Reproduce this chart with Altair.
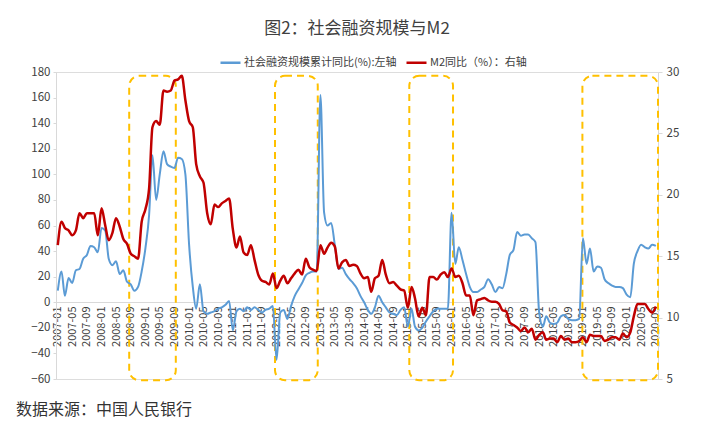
import altair as alt
import pandas as pd

FONT = "Noto Sans CJK SC"

title_text = "图2：社会融资规模与M2"
source_text = "数据来源：中国人民银行"
series_names = ["社会融资规模累计同比(%):左轴", "M2同比（%）：右轴"]
series_colors = ["#5B9BD5", "#C00000"]

# monthly categories 2007-01 .. 2020-09
months = pd.date_range("2007-01-01", "2020-09-01", freq="MS").strftime("%Y/%m/%d").tolist()

# 社会融资规模累计同比 (%), left axis
tsf_yoy = [
    9, 24, 5, 19, 15, 25, 26, 34, 37, 44, 43, 39,            # 2007
    58, 56, 34, 29, 32, 22, 25, 16, 14, 9, 12, 24,           # 2008
    42, 68, 115, 80, 100, 118, 108, 106, 105, 113, 112, 100, # 2009
    45, 12, -5, 14, -7, -9, -8, -7, -5, -4, -2, 1,           # 2010
    -22, -7, -5, -7, -4, -6, -4, -6, -8, -6, -5, -3,         # 2011
    -45, -8, -6, -13, -3, 5, 10, 15, 21, 23, 24, 24,         # 2012
    162, 70, 60, 62, 45, 26, 27, 22, 18, 15, 11, 5,          # 2013
    0, -6, -9, -4, 5, 0, -4, -8, -9, -10, -6, -4,            # 2014
    -19, -5, -19, -22, -20, -15, -11, -7, -5, -5, -5, -5,    # 2015
    70, 30, 43, 33, 22, 12, 8, 8, 10, 12, 18, 14,            # 2016
    8, 12, 11, 22, 37, 41, 55, 52, 53, 53, 50, 47,           # 2017
    -8, -19, -11, -16, -17, -16, -11, -10, -13, -14, -14, -13,  # 2018
    50, 30, 42, 24, 28, 27, 18, 15, 13, 12, 12, 11,          # 2019
    6, 4, 30, 40, 45, 43, 42, 45, 44,                        # 2020
]

# M2 同比 (%), right axis
m2_yoy = [
    15.9, 17.8, 17.3, 17.1, 16.7, 17.1, 18.5, 18.1, 18.5, 18.5, 18.5, 16.7,
    18.9, 17.5, 16.3, 16.9, 18.1, 17.4, 16.4, 16.0, 15.2, 15.0, 14.8, 17.8,
    18.8, 20.5, 25.5, 26.0, 25.7, 28.5, 28.4, 28.5, 29.3, 29.4, 29.7, 27.7,
    26.0, 25.5, 22.5, 21.5, 21.0, 18.5, 17.6, 19.2, 19.0, 19.3, 19.5, 19.7,
    17.2, 15.7, 16.6, 15.3, 15.1, 15.9, 14.7, 13.5, 13.0, 12.9, 12.7, 13.6,
    12.4, 13.0, 13.4, 12.8, 13.2, 13.6, 13.9, 13.5, 14.8, 14.1, 13.9, 13.8,
    15.9, 15.2, 15.7, 16.1, 15.8, 14.0, 14.5, 14.7, 14.2, 14.3, 14.2, 13.6,
    13.2, 13.3, 12.1, 13.2, 13.4, 14.7, 13.5, 12.8, 12.9, 12.6, 12.3, 12.2,
    10.8, 12.5, 11.6, 10.1, 10.8, 10.2, 13.3, 13.3, 13.1, 13.5, 13.7, 13.3,
    14.0, 13.3, 13.4, 12.8, 11.8, 11.8, 10.2, 11.4, 11.5, 11.6, 11.4, 11.3,
    11.3, 11.1, 10.6, 10.5, 9.6, 9.4, 9.2, 8.9, 9.2, 8.8, 9.1, 8.2,
    8.6, 8.8, 8.2, 8.3, 8.3, 8.0, 8.5, 8.2, 8.3, 8.0, 8.0, 8.1,
    8.4, 8.0, 8.6, 8.5, 8.5, 8.5, 8.1, 8.2, 8.4, 8.4, 8.2, 8.7,
    8.4, 8.8, 10.1, 11.1, 11.1, 11.1, 10.7, 10.4, 10.9,
]

# highlighted periods (dashed boxes)
box_start = ["2008/08/19", "2011/12/19", "2015/01/13", "2018/12/28"]
box_end = ["2009/09/12", "2012/12/10", "2016/01/13", "2020/09/19"]
box_low = [-61, -61, -61, -61]
box_high = [177, 177, 177, 177]

left_ticks = list(range(-60, 181, 20))
right_ticks = list(range(5, 31, 5))
x_tick_years = list(range(2007, 2021))
x_tick_months = [1, 5, 9]

tsf_df = pd.DataFrame({"month": months, "value": tsf_yoy, "series": series_names[0]})
m2_df = pd.DataFrame({"month": months, "value": m2_yoy, "series": series_names[1]})
box_df = pd.DataFrame({"start": box_start, "end": box_end, "lo": box_low, "hi": box_high})

GRAY = "#d9d9d9"
TXT = "#404040"

x_scale = alt.Scale(domain=[alt.DateTime(year=2006, month=12, date=17),
                            alt.DateTime(year=2020, month=9, date=19)])
x_axis = alt.Axis(
    title=None,
    values=[alt.DateTime(year=y, month=m, date=1) for y in x_tick_years for m in x_tick_months],
    format="%Y-%m", labelAngle=270, labelFontSize=11, labelFont=FONT, labelColor=TXT,
    domainColor=GRAY, domainWidth=1, ticks=False, labelPadding=4, offset=-77, grid=False,
    labelOverlap=False,
)
left_scale = alt.Scale(domain=[-60, 180], nice=False, zero=False)
left_axis = alt.Axis(title=None, values=left_ticks, orient="left", labelFontSize=11.5,
                     labelFont=FONT, labelColor=TXT, domainColor=GRAY, tickColor=GRAY,
                     tickSize=3, labelPadding=3, grid=False)
right_scale = alt.Scale(domain=[5, 30], nice=False, zero=False)
right_axis = alt.Axis(title=None, values=right_ticks, orient="right", labelFontSize=11.5,
                      labelFont=FONT, labelColor=TXT, domainColor=GRAY, tickColor=GRAY,
                      tickSize=4, labelPadding=4, grid=False)
color_scale = alt.Scale(domain=series_names, range=series_colors)
legend = alt.Legend(orient="none", legendX=163, legendY=-21, direction="horizontal", title=None,
                    symbolType="stroke", symbolStrokeWidth=2.5, symbolSize=400,
                    labelFontSize=11, labelFont=FONT, labelColor=TXT, columnPadding=4,
                    labelOffset=2)

boxes = alt.Chart(box_df).mark_rect(
    fillOpacity=0, stroke="#FFC000", strokeWidth=2, strokeDash=[7, 5], cornerRadius=10
).encode(
    x=alt.X("start:T", scale=x_scale, axis=x_axis),
    x2="end:T",
    y=alt.Y("lo:Q", scale=left_scale, axis=left_axis),
    y2="hi:Q",
)

tsf_line = alt.Chart(tsf_df).mark_line(strokeWidth=2, interpolate="monotone").encode(
    x=alt.X("month:T", scale=x_scale, axis=x_axis),
    y=alt.Y("value:Q", scale=left_scale, axis=left_axis),
    color=alt.Color("series:N", scale=color_scale, legend=legend),
)

m2_line = alt.Chart(m2_df).mark_line(strokeWidth=2.5, interpolate="monotone").encode(
    x=alt.X("month:T", scale=x_scale, axis=x_axis),
    y=alt.Y("value:Q", scale=right_scale, axis=right_axis),
    color=alt.Color("series:N", scale=color_scale, legend=legend),
)

source = alt.Chart(alt.Data(values=[{"t": source_text}])).mark_text(
    align="left", baseline="middle", fontSize=16, font=FONT, color="#333333"
).encode(x=alt.value(-40), y=alt.value(338), text="t:N")

left_layer = alt.layer(boxes, tsf_line)

chart = alt.layer(left_layer, m2_line, source).resolve_scale(y="independent").properties(
    width=602, height=307,
    title=alt.TitleParams(title_text, fontSize=17, font=FONT, fontWeight="normal",
                          color=TXT, anchor="middle", frame="group", offset=13),
    autosize=alt.AutoSizeParams(type="none"),
    padding={"left": 56, "top": 72, "right": 44, "bottom": 57},
).configure_view(stroke=None).configure(background="white")

chart.save("out.html", embed_options={"renderer": "svg", "actions": False})
